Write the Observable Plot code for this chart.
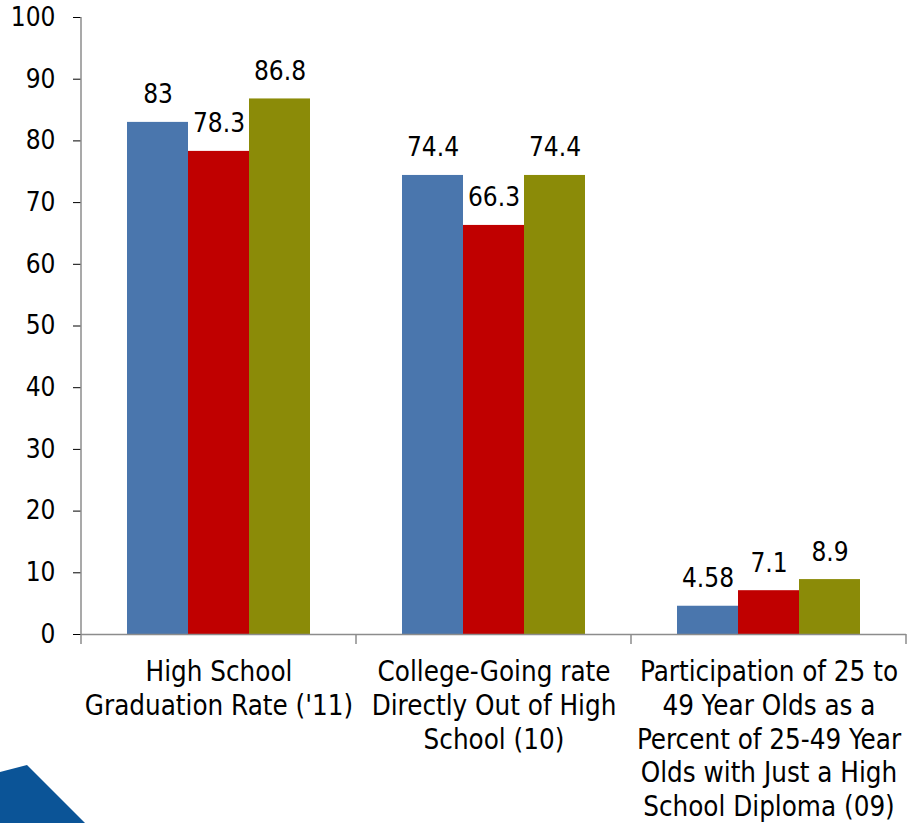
<!DOCTYPE html>
<html><head><meta charset="utf-8">
<script src="https://cdn.jsdelivr.net/npm/d3@7"></script>
<script src="https://cdn.jsdelivr.net/npm/@observablehq/plot@0.6"></script>
<style>
body{margin:0;background:#fff}
#chart{position:relative;width:907px;height:823px;overflow:hidden;background:#fff}
#deco{position:absolute;left:0;top:0;width:907px;height:823px;pointer-events:none;background:#0b5497;clip-path:polygon(0px 772px,27px 765px,85px 823px,0px 823px)}
g[aria-label="y-axis tick"]{stroke:#8c8c8c}
</style></head>
<body><div id="chart"><div id="deco"></div></div>
<script>
const categories = [
  "High School\nGraduation Rate ('11)",
  "College-Going rate\nDirectly Out of High\nSchool (10)",
  "Participation of 25 to\n49 Year Olds as a\nPercent of 25-49 Year\nOlds with Just a High\nSchool Diploma (09)"
];
const series = ["Series 1", "Series 2", "Series 3"];
const values1 = [83, 74.4, 4.58];
const values2 = [78.3, 66.3, 7.1];
const values3 = [86.8, 74.4, 8.9];
const yTicks = [0, 10, 20, 30, 40, 50, 60, 70, 80, 90, 100];
const colors = ["#4a76ad", "#c00000", "#8b8b08"];

const seriesValues = [values1, values2, values3];
const data = [];
categories.forEach((c, i) => series.forEach((s, j) => data.push({category: c, series: s, value: seriesValues[j][i]})));

const FONT = '"DejaVu Sans Condensed","DejaVu Sans",sans-serif';

const plot = Plot.plot({
  width: 907, height: 823,
  marginLeft: 80, marginRight: 0, marginTop: 17, marginBottom: 189,
  style: {fontFamily: FONT, fontSize: "26px", color: "#000", background: "transparent", overflow: "visible"},
  fx: {domain: categories, padding: 0, axis: null},
  x: {domain: series, paddingInner: 0, paddingOuter: 0.75, axis: null},
  y: {domain: [0, 100]},
  color: {domain: series, range: colors},
  marks: [
    Plot.axisY(yTicks, {tickSize: 8, tickPadding: 18, fontSize: 26, label: null, color: "#000"}),
    Plot.barY(data, {fx: "category", x: "series", y: "value", fill: "series"}),
    Plot.ruleY([0], {stroke: "#8c8c8c", strokeWidth: 1.5}),
    Plot.text(data, {fx: "category", x: "series", y: "value", text: d => String(d.value), lineAnchor: "bottom", dy: -19, fontSize: 26, fill: "#000"}),
    Plot.text(categories, {fx: d => d, text: d => d, frameAnchor: "bottom", lineAnchor: "top", dy: 23, lineHeight: 1.225, fontSize: 27.5, fill: "#000"})
  ]
});

// axis line and category boundary ticks, positioned from the plot's own scales
const fx = plot.scale("fx"), y = plot.scale("y");
const y0 = y.apply(0), y100 = y.apply(100);
const g = d3.select(plot).append("g").attr("stroke", "#8c8c8c").attr("stroke-width", 1.5);
g.append("line").attr("x1", fx.apply(categories[0])).attr("x2", fx.apply(categories[0])).attr("y1", y100).attr("y2", y0);
const bounds = categories.map(c => fx.apply(c)).concat([fx.apply(categories[categories.length - 1]) + fx.bandwidth]);
bounds.forEach(b => g.append("line").attr("x1", b).attr("x2", b).attr("y1", y0).attr("y2", y0 + 10));

plot.style.position = "absolute";
plot.style.left = "0";
plot.style.top = "0";
document.getElementById("chart").prepend(plot);
</script>
</body></html>
